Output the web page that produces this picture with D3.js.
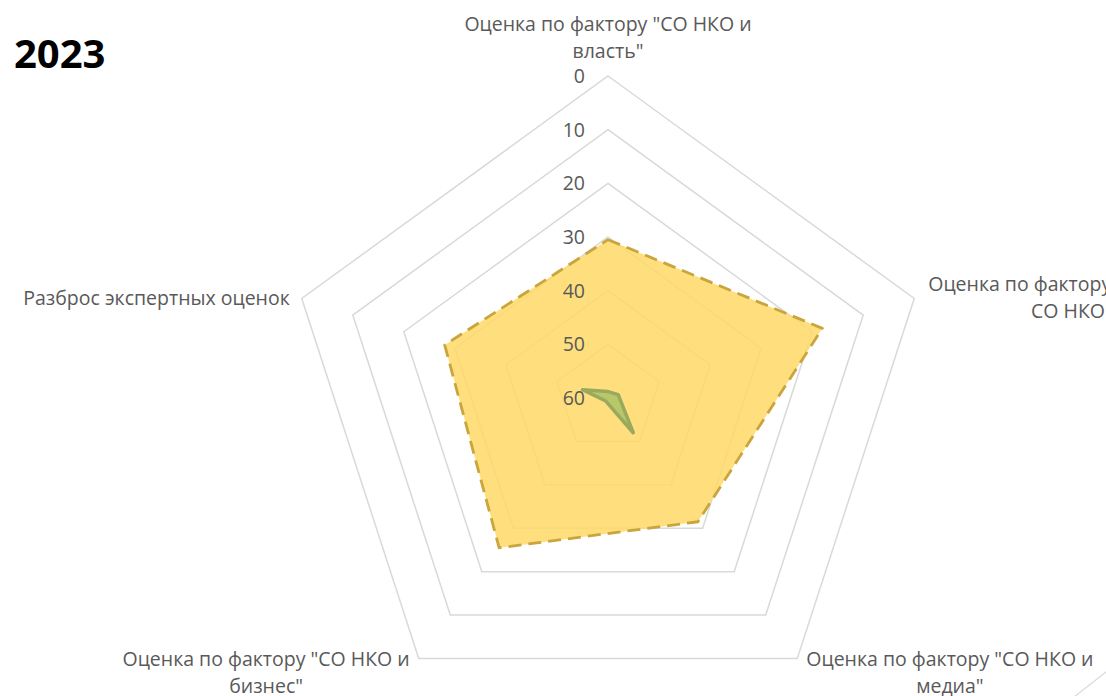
<!DOCTYPE html>
<html>
<head>
<meta charset="utf-8">
<script src="https://d3js.org/d3.v7.min.js"></script>
<style>
body { margin: 0; background: #fff; }
text { font-family: "Open Sans", "DejaVu Sans", sans-serif; }
</style>
</head>
<body>
<script>
// axis labels, clockwise from the top, already split into lines
var categories = [
  ['Оценка по фактору "СО НКО и', 'власть"'],
  ['Оценка по фактору "СО НКО и', 'СО НКО"'],
  ['Оценка по фактору "СО НКО и', 'медиа"'],
  ['Оценка по фактору "СО НКО и', 'бизнес"'],
  ['Разброс экспертных оценок']
];
var ticks = [0, 10, 20, 30, 40, 50, 60];
var seriesScore = [30.5, 18, 31.5, 25.5, 28];   // yellow, dashed
var seriesSpread = [58.8, 58, 52, 59.3, 55];    // green

var width = 1106, height = 696;
var cx = 608, cy = 398, R = 322;

var svg = d3.select("body").append("svg")
  .attr("width", width)
  .attr("height", height);

// reversed radial axis: 0 on the rim, 60 in the centre
var r = d3.scaleLinear().domain([0, 60]).range([R, 0]);
var angle = function(i) { return i * 2 * Math.PI / categories.length; };

var radial = d3.lineRadial()
  .angle(function(d, i) { return angle(i); })
  .radius(function(d) { return r(d); })
  .curve(d3.curveLinearClosed);

var g = svg.append("g").attr("transform", "translate(" + cx + "," + cy + ")");

// grid rings
g.selectAll(".ring")
  .data(ticks.filter(function(t) { return t < 60; }))
  .enter().append("path")
  .attr("class", "ring")
  .attr("d", function(t) { return radial(categories.map(function() { return t; })); })
  .attr("fill", "none")
  .attr("stroke", "#d9d9d9")
  .attr("stroke-width", 1.5);

// yellow series
g.append("path")
  .attr("d", radial(seriesScore))
  .attr("fill", "#ffd966")
  .attr("fill-opacity", 0.85)
  .attr("stroke", "#c9a53c")
  .attr("stroke-width", 2.8)
  .attr("stroke-dasharray", "13,7")
  .attr("stroke-linejoin", "round");

// green series
g.append("path")
  .attr("d", radial(seriesSpread))
  .attr("fill", "#a9c466")
  .attr("fill-opacity", 0.85)
  .attr("stroke", "#9aa95d")
  .attr("stroke-width", 3.5)
  .attr("stroke-linejoin", "round");

// tick labels
g.selectAll(".tick")
  .data(ticks)
  .enter().append("text")
  .attr("class", "tick")
  .attr("x", -23)
  .attr("y", function(t) { return -r(t); })
  .attr("dy", "0.35em")
  .attr("text-anchor", "end")
  .attr("font-size", 19.5)
  .attr("fill", "#595959")
  .text(function(t) { return t; });

// category labels
var lineH = 28;
categories.forEach(function(lines, i) {
  var a = angle(i);
  var vx = cx + R * Math.sin(a), vy = cy - R * Math.cos(a);
  var lab = svg.append("text")
    .attr("font-size", 19.5)
    .attr("fill", "#595959")
    .attr("text-anchor", "middle");
  var spans = lines.map(function(s) {
    return lab.append("tspan").text(s);
  });
  var w = d3.max(spans, function(s) { return s.node().getComputedTextLength(); });
  var n = lines.length, mid, top;
  if (i === 0) { mid = vx; top = vy - 10 - n * lineH; }
  else if (i === 1) { mid = vx + 14 + w / 2; top = vy - n * lineH / 2; }
  else if (i === 4) { mid = vx - 12 - w / 2; top = vy - n * lineH / 2; }
  else if (i === 2) { mid = vx + 9 + w / 2; top = vy - 13; }
  else { mid = vx - 9 - w / 2; top = vy - 13; }
  spans.forEach(function(s, k) {
    s.attr("x", mid).attr("y", top + k * (lineH - 1) + lineH / 2).attr("dy", "0.35em");
  });
});

// stray edge line at the bottom right corner
svg.append("line")
  .attr("x1", 1074).attr("y1", 697)
  .attr("x2", 1106).attr("y2", 672)
  .attr("stroke", "#d9d9d9")
  .attr("stroke-width", 1.2);

svg.append("text")
  .attr("x", 14)
  .attr("y", 68)
  .attr("font-size", 40)
  .attr("font-weight", 700)
  .attr("fill", "#000")
  .text("2023");
</script>
</body>
</html>
